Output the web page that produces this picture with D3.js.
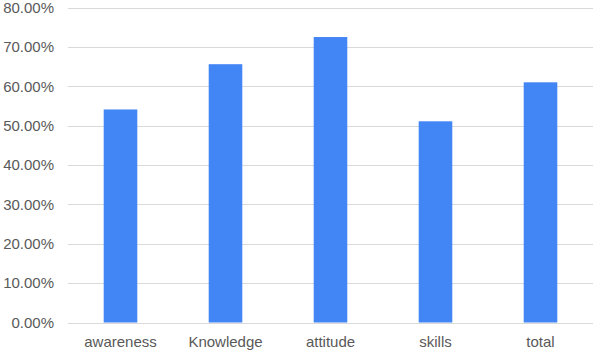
<!DOCTYPE html>
<html>
<head>
<meta charset="utf-8">
<script src="https://cdn.jsdelivr.net/npm/d3@7/dist/d3.min.js"></script>
<style>
  body { margin: 0; background: #fff; }
  text { font-family: "Liberation Sans", Arial, sans-serif; }
</style>
</head>
<body>
<svg width="594" height="352"></svg>
<script>
var categories = ["awareness", "Knowledge", "attitude", "skills", "total"];
var values = [0.541, 0.656, 0.725, 0.511, 0.610];
var yTicks = [0, 0.1, 0.2, 0.3, 0.4, 0.5, 0.6, 0.7, 0.8];

var svg = d3.select("svg");
var plotLeft = 68, plotRight = 593, plotTop = 7.5, plotBottom = 322.5;

var x = d3.scaleBand()
    .domain(categories)
    .range([plotLeft, plotRight])
    .paddingInner(0.68)
    .paddingOuter(0.34);

var y = d3.scaleLinear()
    .domain([0, 0.8])
    .range([plotBottom, plotTop]);

// grid lines
svg.append("g")
  .selectAll("line")
  .data(yTicks)
  .enter()
  .append("line")
    .attr("x1", plotLeft)
    .attr("x2", plotRight)
    .attr("y1", function (d) { return Math.round(y(d)) + 0.5; })
    .attr("y2", function (d) { return Math.round(y(d)) + 0.5; })
    .attr("stroke", "#d9d9d9")
    .attr("stroke-width", 1.2);

// y labels
svg.append("g")
  .selectAll("text")
  .data(yTicks)
  .enter()
  .append("text")
    .attr("x", 54)
    .attr("y", function (d) { return y(d); })
    .attr("dy", "0.35em")
    .attr("text-anchor", "end")
    .attr("font-size", "15px")
    .attr("fill", "#595959")
    .text(function (d) { return d3.format(".2%")(d); });

// bars
svg.append("g")
  .selectAll("rect")
  .data(values)
  .enter()
  .append("rect")
    .attr("x", function (d, i) { return x(categories[i]); })
    .attr("width", x.bandwidth())
    .attr("y", function (d) { return y(d); })
    .attr("height", function (d) { return y(0) - y(d); })
    .attr("fill", "#4285f4");

// category labels
svg.append("g")
  .selectAll("text")
  .data(categories)
  .enter()
  .append("text")
    .attr("x", function (d) { return x(d) + x.bandwidth() / 2; })
    .attr("y", 347)
    .attr("text-anchor", "middle")
    .attr("font-size", "15px")
    .attr("fill", "#595959")
    .text(function (d) { return d; });
</script>
</body>
</html>
